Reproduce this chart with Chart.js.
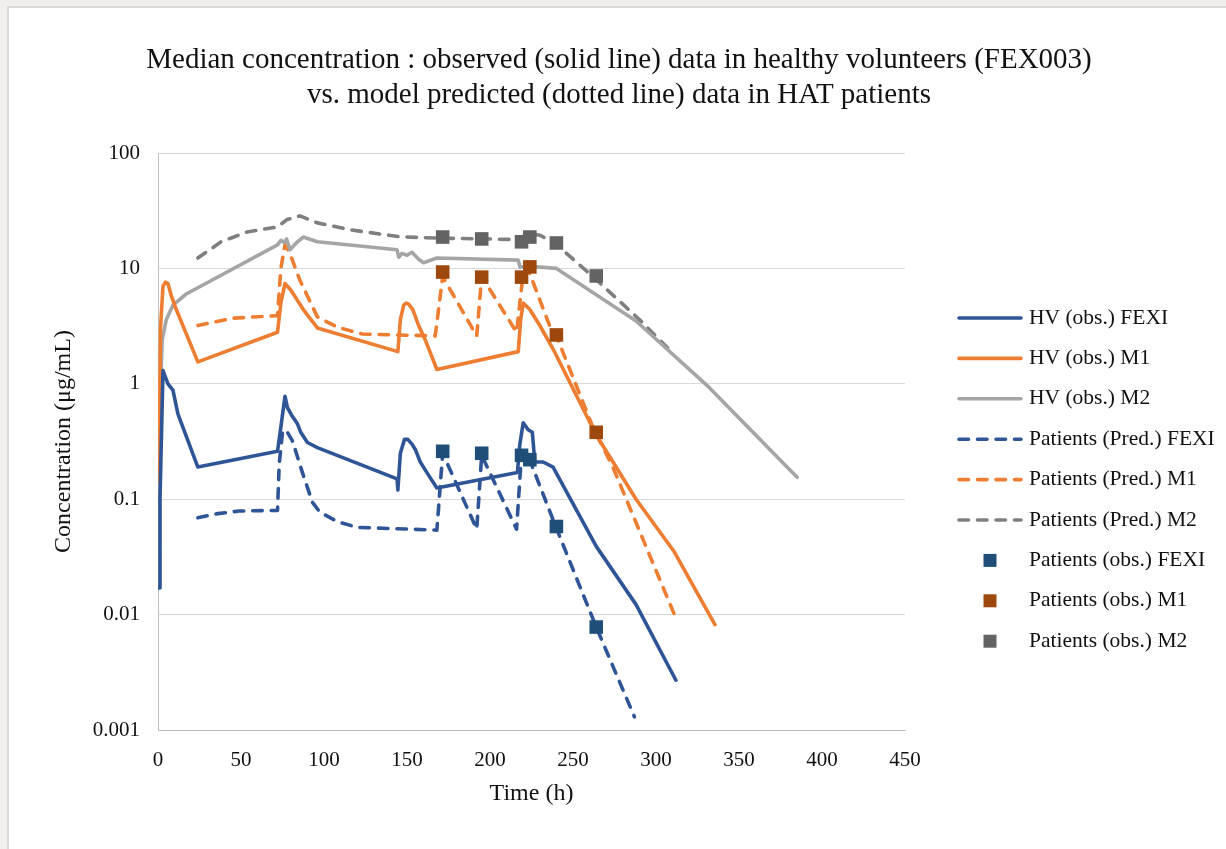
<!DOCTYPE html>
<html><head><meta charset="utf-8">
<script src="https://cdn.jsdelivr.net/npm/chart.js@4/dist/chart.umd.min.js"></script>
<style>
html,body{margin:0;padding:0;background:#f0efeb;width:1226px;height:849px;overflow:hidden}
#panel{position:absolute;left:7px;top:6px;right:0;bottom:0;background:#fff;border-left:2px solid #d9d9d9;border-top:2px solid #d9d9d9}
#c{position:absolute;left:0;top:0}
</style></head><body>
<div id="panel"></div>
<canvas id="c" width="1226" height="849"></canvas>
<script>
// ---- data ----
const X_TICKS = [0, 50, 100, 150, 200, 250, 300, 350, 400, 450];
const Y_TICKS = [0.001, 0.01, 0.1, 1, 10, 100];
const Y_TICK_LABELS = ['0.001', '0.01', '0.1', '1', '10', '100'];

const SERIES_NAMES = ['HV (obs.) FEXI', 'HV (obs.) M1', 'HV (obs.) M2',
  'Patients (Pred.) FEXI', 'Patients (Pred.) M1', 'Patients (Pred.) M2',
  'Patients (obs.) FEXI', 'Patients (obs.) M1', 'Patients (obs.) M2'];

const hvFexiTime = [0.7, 1.2, 3, 6, 9, 12, 13.5, 24, 72, 74, 76.5, 78, 81, 84, 86, 90, 96, 144, 144.5, 146, 148.5, 150.5, 153, 155, 158, 162, 168, 216.5, 218, 220, 223, 225.5, 227, 232, 238, 264, 288, 312];
const hvFexiConc = [0.017, 0.1, 1.3, 1.0, 0.88, 0.55, 0.48, 0.19, 0.26, 0.42, 0.78, 0.62, 0.52, 0.45, 0.38, 0.31, 0.28, 0.15, 0.12, 0.25, 0.33, 0.33, 0.3, 0.27, 0.21, 0.17, 0.125, 0.17, 0.3, 0.46, 0.4, 0.38, 0.21, 0.21, 0.19, 0.039, 0.0122, 0.0027];

const hvM1Time = [0.5, 1.5, 3, 4.5, 6, 8, 11, 24, 72, 74, 76.5, 80, 88, 96, 144.5, 146, 148, 149.5, 151, 153.5, 157, 161, 168, 217, 218.5, 220, 222, 224, 230, 238, 264, 288, 311, 335.5];
const hvM1Conc = [0.14, 3, 7, 7.6, 7.4, 5.8, 4.4, 1.55, 2.8, 5, 7.4, 6.5, 4.3, 3.05, 1.9, 3.6, 4.8, 5.0, 4.9, 4.4, 3.2, 2.4, 1.33, 1.9, 3.6, 5.0, 4.7, 4.4, 3.2, 2.0, 0.36, 0.1, 0.035, 0.0082];

const hvM2Time = [0.5, 1, 2.5, 5, 9, 17, 72, 74, 76, 77.5, 79.5, 84, 87.5, 96, 144, 145, 147, 150, 153, 157, 160, 168, 217, 218, 228, 240, 288, 332, 385];
const hvM2Conc = [0.09, 0.5, 2.4, 3.6, 4.8, 6.0, 16, 17.5, 16.8, 18, 14.5, 17, 18.7, 17, 14.5, 12.5, 13.5, 13, 13.8, 12, 11.2, 12.3, 11.8, 10.3, 10.3, 10, 3.5, 0.93, 0.155];

const predFexiTime = [24, 36, 49, 72, 73, 75, 77, 81, 87, 93, 97.6, 108, 120, 135, 168, 171.5, 192, 195, 216, 219, 221, 225, 240, 264, 287];
const predFexiConc = [0.069, 0.075, 0.079, 0.08, 0.2, 0.38, 0.4, 0.32, 0.17, 0.094, 0.077, 0.064, 0.057, 0.056, 0.054, 0.25, 0.055, 0.24, 0.055, 0.25, 0.26, 0.2, 0.056, 0.0078, 0.0013];

const predM1Time = [24, 45, 72, 74, 76.5, 79, 85.5, 96, 108, 123, 167, 171.5, 192, 195, 216, 220, 223, 237, 240, 262, 274, 312];
const predM1Conc = [3.2, 3.7, 3.9, 10, 16, 14, 7.9, 3.8, 3.1, 2.7, 2.6, 8.5, 2.6, 8.5, 2.8, 9.1, 9.8, 2.9, 2.6, 0.42, 0.19, 0.0093];

const predM2Time = [24, 38, 53.6, 72, 77.7, 85.5, 96, 115.7, 145.8, 168, 216, 223, 230, 239, 262, 290, 310];
const predM2Conc = [12.3, 17, 20.7, 22.9, 26.5, 28.5, 24.8, 21.6, 18.8, 18.3, 17.8, 20, 19.4, 16.6, 8.5, 3.6, 1.85];

const obsTime = [171.5, 195, 219, 224, 240, 264];
const obsFexi = [0.26, 0.25, 0.24, 0.22, 0.058, 0.0078];
const obsM1 = [9.3, 8.4, 8.4, 10.3, 2.65, 0.38];
const obsM2 = [18.7, 18, 17, 18.7, 16.6, 8.6];

// ---- build ----
const FONT = "'Liberation Serif', 'Times New Roman', serif";
const pts = (xs, ys) => xs.map((x, i) => ({x: x, y: ys[i]}));
const DASH = [9.5, 9];

function lineDs(label, xs, ys, color, dashed) {
  return {label, data: pts(xs, ys), showLine: true, borderColor: color, backgroundColor: color,
    borderWidth: 3.6, borderDash: dashed ? DASH : [], borderCapStyle: 'round', borderJoinStyle: 'round',
    pointRadius: 0, pointHoverRadius: 0, tension: 0, order: 2};
}
function markDs(label, xs, ys, color) {
  return {label, data: pts(xs, ys), showLine: false, backgroundColor: color, borderColor: color,
    borderWidth: 0, pointStyle: 'rect', pointRadius: 9.6, pointHoverRadius: 9.6, order: 1};
}

const datasets = [
  lineDs(SERIES_NAMES[0], hvFexiTime, hvFexiConc, '#2f5597', false),
  lineDs(SERIES_NAMES[1], hvM1Time, hvM1Conc, '#ed7d31', false),
  lineDs(SERIES_NAMES[2], hvM2Time, hvM2Conc, '#a5a5a5', false),
  lineDs(SERIES_NAMES[3], predFexiTime, predFexiConc, '#2f5597', true),
  lineDs(SERIES_NAMES[4], predM1Time, predM1Conc, '#ed7d31', true),
  lineDs(SERIES_NAMES[5], predM2Time, predM2Conc, '#7f7f7f', true),
  markDs(SERIES_NAMES[6], obsTime, obsFexi, '#1f4e79'),
  markDs(SERIES_NAMES[7], obsTime, obsM1, '#9e480e'),
  markDs(SERIES_NAMES[8], obsTime, obsM2, '#636363')
];

const sideLegend = {
  id: 'sideLegend',
  afterDraw(chart) {
    const ctx = chart.ctx;
    const top = 318, step = 40.4, x0 = 959, x1 = 1021, tx = 1029;
    ctx.save();
    chart.data.datasets.forEach((ds, i) => {
      const y = top + i * step;
      if (ds.showLine) {
        ctx.strokeStyle = ds.borderColor;
        ctx.lineWidth = ds.borderWidth;
        ctx.lineCap = 'round';
        ctx.setLineDash(ds.borderDash || []);
        ctx.beginPath(); ctx.moveTo(x0, y); ctx.lineTo(x1, y); ctx.stroke();
      } else {
        ctx.setLineDash([]);
        ctx.fillStyle = ds.backgroundColor;
        ctx.fillRect(990 - 6.5, y - 6.5, 13, 13);
      }
      ctx.setLineDash([]);
      ctx.fillStyle = '#111';
      ctx.font = '21.5px ' + FONT;
      ctx.textBaseline = 'middle';
      ctx.textAlign = 'left';
      ctx.fillText(ds.label, tx, y);
    });
    ctx.restore();
  }
};

new Chart(document.getElementById('c'), {
  type: 'scatter',
  data: {datasets},
  plugins: [sideLegend],
  options: {
    responsive: false,
    animation: false,
    devicePixelRatio: 1,
    layout: {padding: {left: 12, right: 0, top: 8, bottom: 41}},
    plugins: {
      legend: {display: false},
      tooltip: {enabled: false},
      title: {
        display: true,
        text: ['Median concentration : observed (solid line) data in healthy volunteers (FEX003)',
               'vs. model predicted (dotted line) data in HAT patients'],
        color: '#111',
        font: {family: FONT, size: 29, weight: 'normal', lineHeight: 1.2},
        padding: {top: 35, bottom: 40.4}
      }
    },
    scales: {
      x: {
        type: 'linear', min: 0, max: 450, position: 'bottom',
        afterBuildTicks: s => { s.ticks = X_TICKS.map(v => ({value: v})); },
        afterFit: s => { s.height = 78; },
        ticks: {autoSkip: false, maxRotation: 0, padding: 10, color: '#111',
          font: {family: FONT, size: 21}, callback: v => String(v)},
        grid: {display: false},
        border: {display: true, color: '#bfbfbf', width: 1},
        title: {display: true, text: 'Time (h)', color: '#111',
          font: {family: FONT, size: 24, lineHeight: 1.2}, padding: {top: 0, bottom: 0}}
      },
      y: {
        type: 'logarithmic', min: 0.001, max: 100, position: 'left',
        afterBuildTicks: s => { s.ticks = Y_TICKS.map(v => ({value: v})); },
        afterFit: s => { s.width = 146; },
        ticks: {autoSkip: false, padding: 18, color: '#111',
          font: {family: FONT, size: 21},
          callback: v => { const i = Y_TICKS.indexOf(v); return i >= 0 ? Y_TICK_LABELS[i] : ''; }},
        grid: {display: true, color: '#d9d9d9', lineWidth: 1, drawTicks: false},
        border: {display: true, color: '#bfbfbf', width: 1},
        title: {display: true, text: 'Concentration (μg/mL)', color: '#111',
          font: {family: FONT, size: 24, lineHeight: 1.2}, padding: {top: 37.5, bottom: 0}}
      },
      legendSpace: {
        type: 'linear', position: 'right', display: true,
        afterFit: s => { s.width = 321; },
        ticks: {display: false}, grid: {display: false}, border: {display: false}
      }
    }
  }
});
</script>
</body></html>
